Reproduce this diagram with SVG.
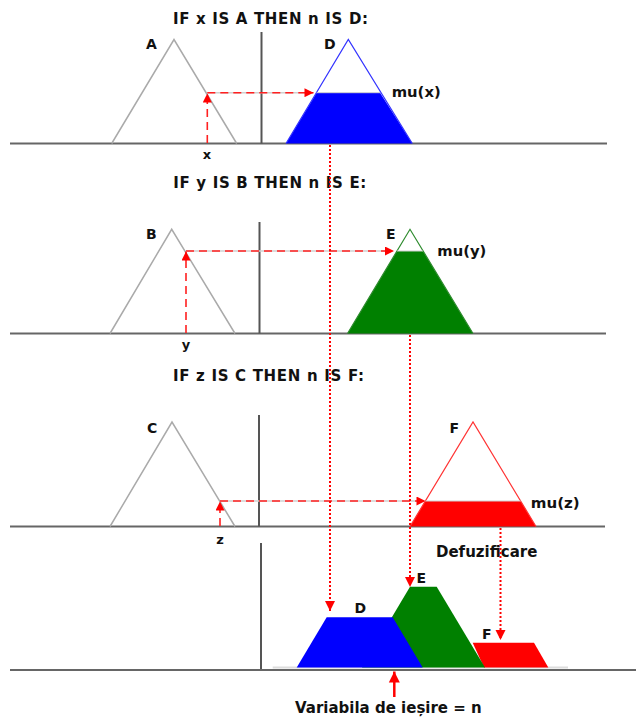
<svg xmlns="http://www.w3.org/2000/svg" width="636" height="717" viewBox="0 0 636 717">
<defs>
<style>
text{font-family:"DejaVu Sans","Liberation Sans",sans-serif;font-weight:bold;fill:#111}
.title{font-size:15px}
.lbl{font-size:14px}
.mu{font-size:14px}
.var{font-size:13px}
.big{font-size:15px}
.base{stroke:#666;stroke-width:2;fill:none}
.axis{stroke:#555;stroke-width:2;fill:none}
.in{stroke:#aaa;stroke-width:1.5;fill:none}
.guide{stroke:#d0d0d0;stroke-width:1.5;fill:none}
.dash{stroke:#ff2020;stroke-width:1.6;stroke-dasharray:8,5;fill:none}
.dot{stroke:#ff0000;stroke-width:2;stroke-dasharray:2,2;fill:none}
.solid{stroke:#ff0000;stroke-width:2.5;fill:none}
</style>
<marker id="ah" viewBox="0 0 10 10" refX="10" refY="5" markerUnits="userSpaceOnUse" markerWidth="11" markerHeight="9" orient="auto">
<path d="M0,0 L10,5 L0,10 Z" fill="#ff0000"/>
</marker>
<marker id="ahd" viewBox="0 0 10 10" refX="10" refY="5" markerUnits="userSpaceOnUse" markerWidth="10" markerHeight="12" orient="auto">
<path d="M0,0 L10,5 L0,10 Z" fill="#ff0000"/>
</marker>
<marker id="ahu" viewBox="0 0 10 10" refX="10" refY="5" markerUnits="userSpaceOnUse" markerWidth="11" markerHeight="13" orient="auto">
<path d="M0,0 L10,5 L0,10 Z" fill="#ff0000"/>
</marker>
</defs>
<rect width="636" height="717" fill="#ffffff"/>

<!-- Rule 1 -->
<g id="rule1">
<text class="title" x="173" y="24" textLength="195" lengthAdjust="spacing">IF x IS A THEN n IS D:</text>
<line class="base" x1="10" y1="143.5" x2="607" y2="143.5"/>
<line class="axis" x1="261.5" y1="32" x2="261.5" y2="143.5"/>
<g id="setA">
<polyline class="in" points="111.7,143.5 174,39.5 236.7,143.5"/>
<text class="lbl" x="146" y="48.5">A</text>
</g>
<g id="setD">
<polygon points="286,143.5 316.7,92.7 380,92.7 412.3,143.5" fill="#0000ff"/>
<polyline points="286,143.5 348.3,39.5 412.3,143.5" fill="none" stroke="#3333ff" stroke-width="1.2"/>
<line x1="316.7" y1="92.7" x2="380" y2="92.7" stroke="#cfcfcf" stroke-width="1"/>
<text class="lbl" x="324" y="48.5">D</text>
<text class="mu" x="391.7" y="97" textLength="49" lengthAdjust="spacingAndGlyphs">mu(x)</text>
</g>
<text class="var" x="207" y="159" text-anchor="middle">x</text>
</g>

<!-- Rule 2 -->
<g id="rule2">
<text class="title" x="173.3" y="188.3" textLength="193" lengthAdjust="spacing">IF y IS B THEN n IS E:</text>
<line class="base" x1="10" y1="333.5" x2="606" y2="333.5"/>
<line class="axis" x1="259.5" y1="222" x2="259.5" y2="333.5"/>
<g id="setB">
<polyline class="in" points="110,333.5 171.7,229.3 235,333.5"/>
<text class="lbl" x="146" y="238.8">B</text>
</g>
<g id="setE">
<polygon points="347.5,333.5 397,251 423,251 473,333.5" fill="#008000"/>
<polyline points="347.5,333.5 410,229.3 473,333.5" fill="none" stroke="#2e8b2e" stroke-width="1.2"/>
<line x1="397" y1="251" x2="423" y2="251" stroke="#cfcfcf" stroke-width="1"/>
<text class="lbl" x="386" y="238.8">E</text>
<text class="mu" x="437.3" y="255.5" textLength="49" lengthAdjust="spacingAndGlyphs">mu(y)</text>
</g>
<text class="var" x="186" y="349" text-anchor="middle">y</text>
</g>

<!-- Rule 3 -->
<g id="rule3">
<text class="title" x="173" y="381" textLength="191" lengthAdjust="spacing">IF z IS C THEN n IS F:</text>
<line class="base" x1="10" y1="526.5" x2="605" y2="526.5"/>
<line class="axis" x1="259" y1="415" x2="259" y2="526.5"/>
<g id="setC">
<polyline class="in" points="110,526.5 172,422 235,526.5"/>
<text class="lbl" x="147" y="432.5">C</text>
</g>
<g id="setF">
<polygon points="410,526.5 425.4,501 520.6,501 536,526.5" fill="#ff0000"/>
<polyline points="410,526.5 473,422 536,526.5" fill="none" stroke="#ff3333" stroke-width="1.2"/>
<line x1="425.4" y1="501" x2="520.6" y2="501" stroke="#cfcfcf" stroke-width="1"/>
<text class="lbl" x="449.5" y="433">F</text>
<text class="mu" x="530.7" y="507.5" textLength="49" lengthAdjust="spacingAndGlyphs">mu(z)</text>
</g>
<text class="var" x="220" y="543.5" text-anchor="middle">z</text>
</g>

<!-- Aggregation / defuzzification -->
<g id="output">
<text class="big" x="436" y="557">Defuzificare</text>
<line class="axis" x1="261" y1="543" x2="261" y2="670"/>
<line x1="272.7" y1="667.5" x2="568" y2="667.5" stroke="#dddddd" stroke-width="2"/>
<g id="outF">
<polygon points="484,667.5 472.7,642.7 534,642.7 548.3,667.5" fill="#ff0000"/>
<text class="lbl" x="482" y="638.5">F</text>
</g>
<g id="outE">
<polygon points="362,667.5 410,586.7 436.7,586.7 485,667.5" fill="#008000"/>
<text class="lbl" x="416.5" y="582.5">E</text>
</g>
<g id="outD">
<polygon points="296.7,667.5 326.7,617.3 392.7,617.3 422.7,667.5" fill="#0000ff"/>
<text class="lbl" x="354.5" y="612.5">D</text>
</g>
<line x1="10" y1="670" x2="636" y2="670" stroke="#666" stroke-width="2"/>
<text class="big" x="295" y="713">Variabila de ieșire = n</text>
</g>

<!-- Connectors -->
<g id="connectors">
<line class="dash" x1="207.3" y1="143" x2="207.3" y2="93.5" marker-end="url(#ah)"/>
<line class="guide" x1="207.3" y1="92.7" x2="313" y2="92.7"/>
<line class="dash" x1="207.3" y1="92.7" x2="313.5" y2="92.7" marker-end="url(#ah)"/>

<line class="dash" x1="186" y1="333" x2="186" y2="251.5" marker-end="url(#ah)"/>
<line class="guide" x1="186" y1="251" x2="393" y2="251"/>
<line class="dash" x1="186" y1="251" x2="394" y2="251" marker-end="url(#ah)"/>

<line class="dash" x1="220" y1="526" x2="220" y2="501.5" marker-end="url(#ah)"/>
<line class="guide" x1="220" y1="501" x2="424" y2="501"/>
<line class="dash" x1="220" y1="501" x2="425.5" y2="501" marker-end="url(#ah)"/>

<line class="dot" x1="330" y1="145" x2="330" y2="611" marker-end="url(#ahd)"/>
<line class="dot" x1="410" y1="335" x2="410" y2="587" marker-end="url(#ahd)"/>
<line class="dot" x1="500.5" y1="528" x2="500.5" y2="640" marker-end="url(#ahd)"/>

<line class="solid" x1="394.3" y1="697" x2="394.3" y2="671.5" marker-end="url(#ahu)"/>
</g>
</svg>
